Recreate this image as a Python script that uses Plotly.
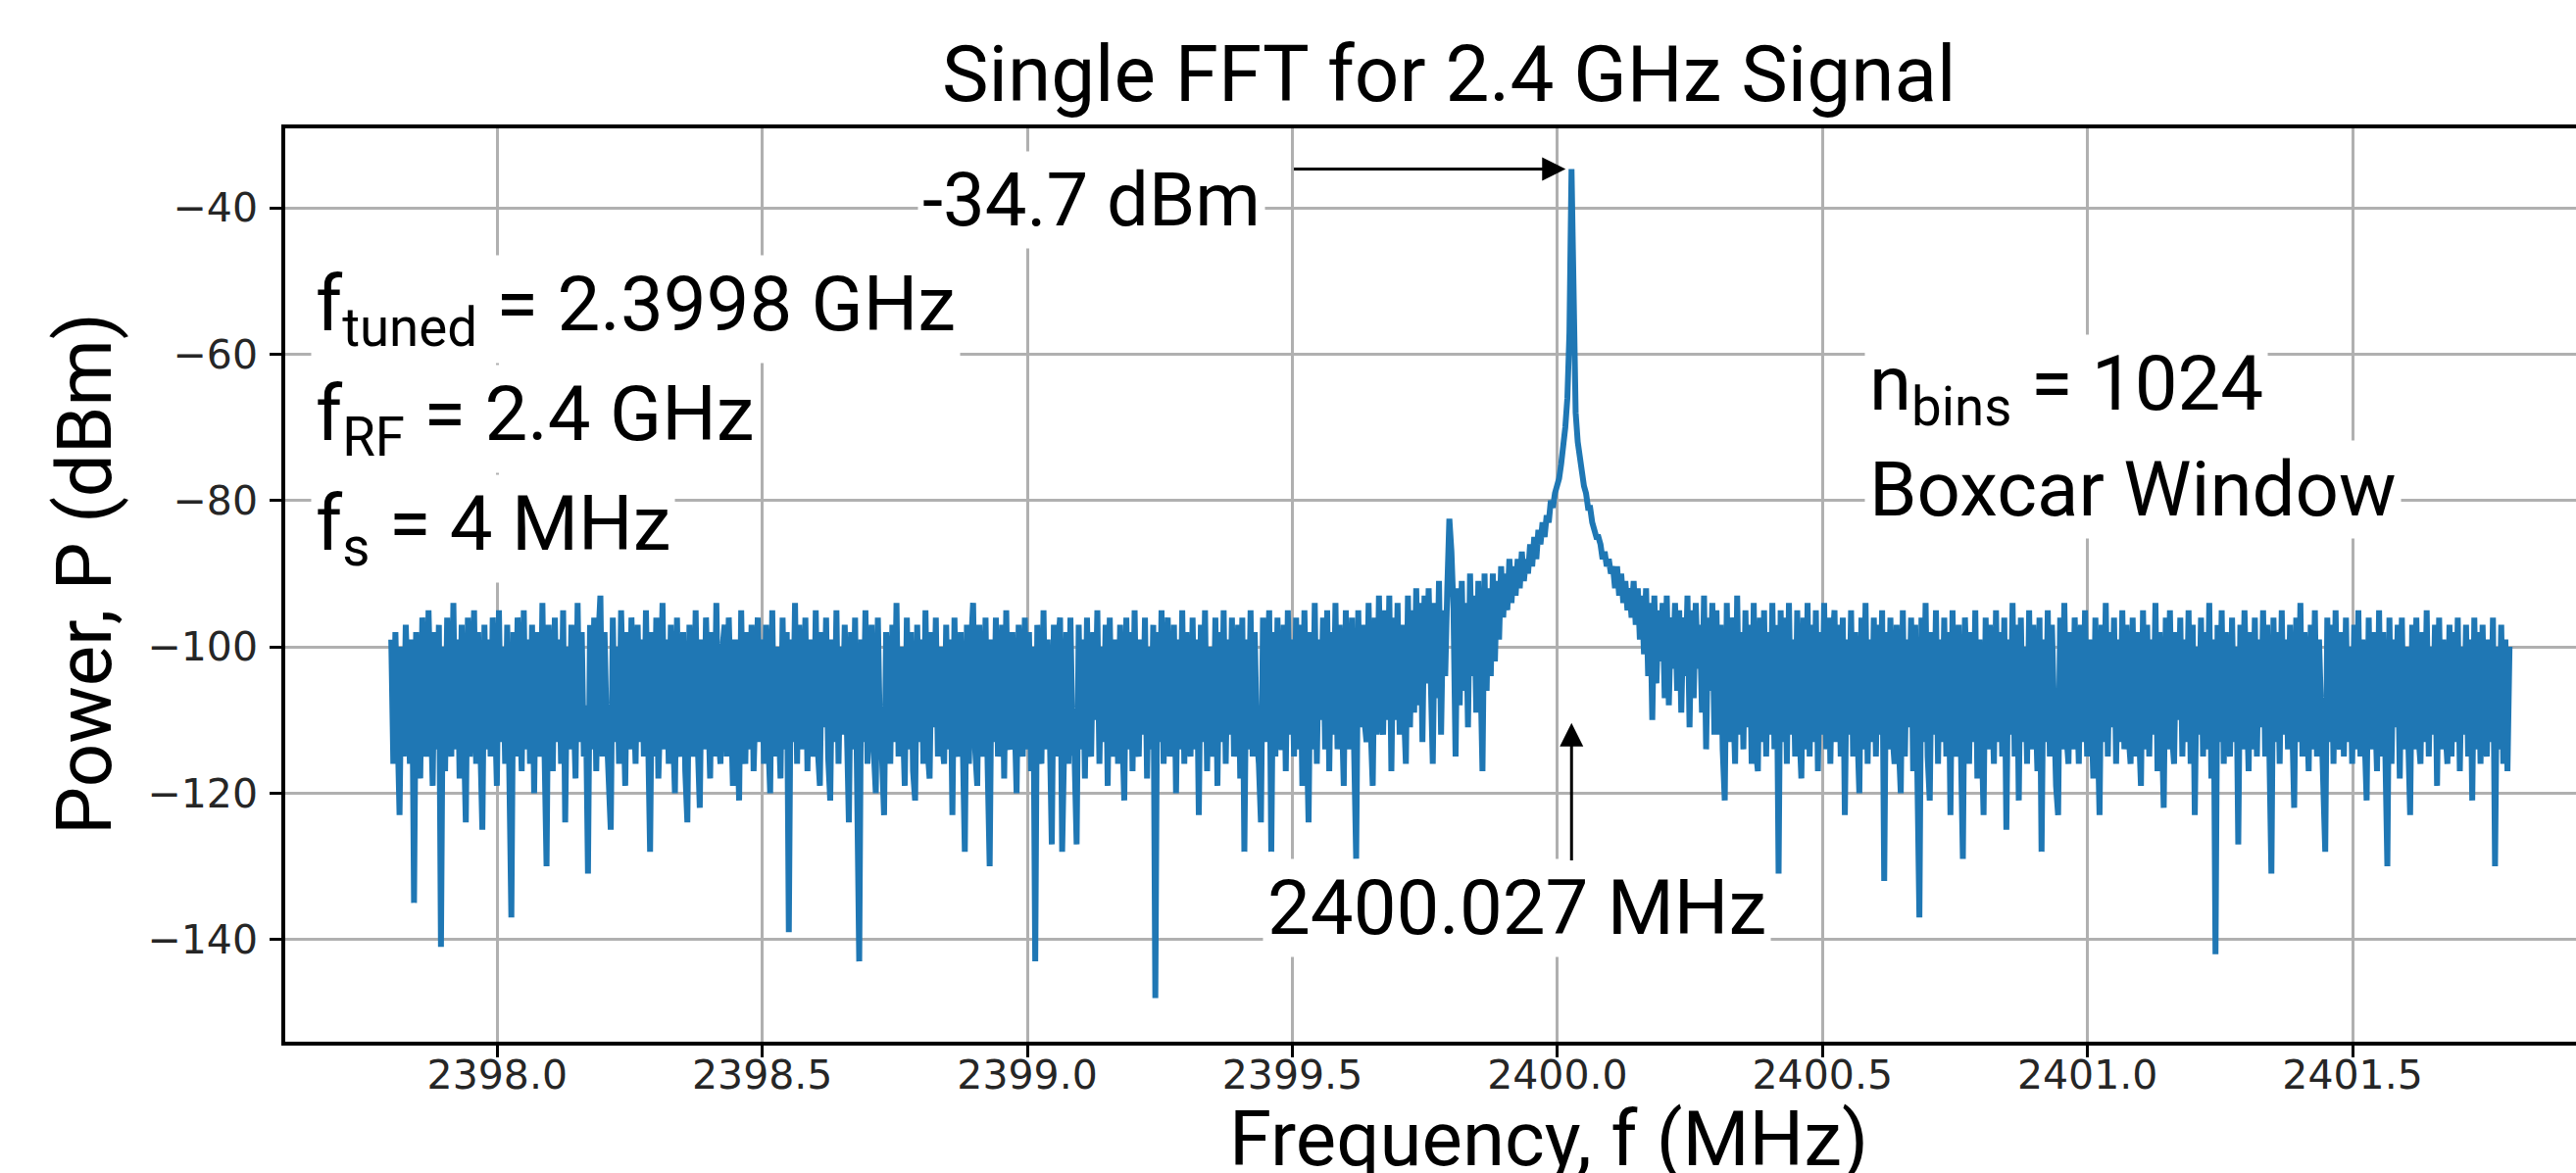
import plotly.graph_objects as go

# ---------------- data ----------------
f_start_mhz = 2397.8          # first FFT bin (tuned 2399.8 MHz - fs/2)
f_s_mhz = 4.0                 # sample rate
n_bins = 1024

power_dbm = [
    -99, -116, -98, -112, -123, -100, -115, -97, -110, -116, -99, -135, -98, -113, -118, -96,
    -110, -115, -95, -113, -119, -98, -114, -97, -141, -100, -117, -96, -112, -115, -94, -114,
    -99, -118, -97, -111, -124, -96, -115, -108, -95, -116, -98, -113, -125, -97, -114, -99,
    -115, -96, -110, -119, -95, -113, -100, -116, -97, -112, -137, -98, -115, -96, -110, -117,
    -95, -114, -99, -116, -97, -120, -98, -112, -115, -94, -114, -130, -97, -111, -117, -96,
    -113, -99, -116, -95, -124, -100, -114, -97, -112, -118, -94, -113, -98, -115, -108, -131,
    -97, -114, -96, -117, -99, -93, -115, -98, -111, -120, -125, -96, -113, -100, -116, -95,
    -112, -119, -98, -114, -96, -110, -116, -97, -113, -99, -115, -95, -112, -128, -98, -115,
    -96, -118, -108, -94, -114, -99, -116, -97, -111, -120, -96, -113, -115, -98, -117, -124,
    -97, -112, -115, -95, -113, -122, -99, -114, -96, -110, -118, -98, -115, -94, -112, -116,
    -100, -97, -115, -96, -113, -119, -99, -114, -121, -95, -112, -116, -98, -114, -97, -117,
    -109, -96, -113, -99, -116, -97, -112, -120, -95, -115, -100, -111, -118, -96, -114, -98,
    -139, -99, -113, -94, -116, -97, -114, -110, -96, -117, -99, -112, -115, -95, -114, -119,
    -98, -111, -96, -115, -121, -99, -113, -95, -116, -100, -112, -97, -115, -124, -98, -114,
    -96, -118, -143, -99, -113, -95, -116, -108, -97, -114, -120, -96, -112, -115, -123, -98,
    -110, -116, -97, -113, -94, -115, -100, -112, -119, -96, -114, -98, -117, -121, -97, -113,
    -99, -116, -95, -114, -118, -98, -111, -96, -115, -100, -113, -116, -97, -114, -99, -123,
    -96, -113, -115, -98, -111, -128, -97, -116, -100, -94, -114, -119, -97, -112, -115, -96,
    -116, -130, -99, -113, -96, -115, -108, -97, -118, -95, -113, -114, -98, -112, -120, -97,
    -110, -115, -96, -114, -98, -117, -100, -143, -97, -112, -116, -95, -114, -99, -111, -127,
    -97, -115, -100, -96, -128, -113, -98, -116, -96, -112, -115, -127, -97, -114, -99, -118,
    -96, -113, -115, -98, -110, -95, -116, -100, -113, -97, -119, -96, -112, -115, -99, -116,
    -97, -111, -121, -96, -114, -98, -117, -95, -113, -115, -99, -112, -96, -118, -100, -114,
    -97, -148, -98, -113, -95, -116, -108, -96, -115, -112, -97, -120, -99, -114, -95, -116,
    -98, -112, -115, -96, -114, -99, -123, -97, -113, -95, -117, -100, -111, -115, -96, -119,
    -98, -113, -95, -116, -99, -112, -96, -115, -108, -97, -118, -96, -128, -99, -114, -95,
    -115, -98, -112, -116, -124, -96, -113, -100, -95, -128, -98, -115, -96, -113, -114, -97,
    -117, -95, -112, -99, -115, -96, -114, -97, -119, -95, -112, -124, -98, -114, -94, -116,
    -99, -110, -96, -114, -95, -117, -98, -112, -94, -114, -97, -113, -119, -95, -111, -114,
    -96, -114, -129, -95, -111, -97, -110, -113, -94, -111, -119, -96, -112, -93, -109, -112,
    -95, -110, -93, -117, -96, -110, -94, -112, -97, -108, -116, -93, -111, -95, -109, -92,
    -108, -94, -113, -93, -105, -92, -110, -116, -94, -107, -91, -112, -95, -104, -92, -82.5,
    -87, -95, -115, -92, -108, -91, -106, -94, -111, -90, -104, -93, -109, -91, -103, -117,
    -90, -106, -92, -104, -90, -102, -91, -99, -89, -96, -90, -95, -88, -94, -89, -93,
    -88, -92, -87, -91, -88, -90, -86, -89, -85, -88, -84, -86, -83, -85, -82, -83,
    -80, -81, -79, -78, -77, -75, -73, -70, -66, -57, -34.7, -60, -68, -72, -75, -76,
    -78, -79, -81, -81, -83, -84, -85, -85, -86, -88, -87, -89, -88, -90, -89, -92,
    -89, -93, -90, -94, -91, -95, -92, -96, -91, -97, -92, -99, -93, -101, -92, -104,
    -94, -110, -93, -105, -95, -102, -94, -107, -93, -108, -96, -103, -94, -106, -95, -109,
    -96, -104, -93, -111, -95, -107, -94, -103, -97, -109, -93, -114, -96, -106, -94, -112,
    -95, -112, -97, -114, -121, -94, -113, -96, -110, -116, -93, -112, -98, -114, -95, -111,
    -97, -116, -94, -114, -117, -96, -113, -95, -115, -98, -112, -94, -114, -97, -131, -95,
    -113, -96, -116, -94, -112, -99, -115, -95, -111, -118, -96, -114, -94, -115, -97, -113,
    -95, -117, -98, -112, -94, -114, -96, -116, -100, -95, -113, -97, -115, -96, -123, -99,
    -112, -95, -115, -98, -111, -120, -96, -114, -94, -116, -99, -113, -96, -115, -97, -112,
    -95, -132, -98, -114, -96, -112, -116, -97, -113, -120, -95, -115, -99, -111, -96, -117,
    -97, -114, -137, -96, -113, -94, -115, -121, -98, -112, -95, -116, -99, -113, -96, -115,
    -98, -123, -95, -112, -115, -97, -114, -129, -96, -111, -116, -98, -113, -95, -118, -99,
    -112, -123, -96, -114, -97, -110, -116, -95, -113, -98, -115, -96, -125, -99, -112, -94,
    -115, -97, -121, -96, -113, -100, -116, -95, -114, -97, -112, -117, -96, -128, -99, -113,
    -95, -115, -97, -111, -119, -123, -96, -114, -94, -112, -116, -98, -114, -96, -110, -116,
    -97, -113, -95, -115, -99, -112, -118, -96, -114, -123, -97, -113, -94, -115, -98, -111,
    -96, -116, -99, -113, -95, -114, -97, -112, -116, -96, -115, -98, -111, -119, -95, -114,
    -97, -115, -99, -112, -94, -117, -98, -113, -122, -96, -114, -95, -112, -116, -98, -110,
    -96, -115, -99, -113, -95, -116, -97, -123, -100, -112, -96, -115, -98, -114, -94, -118,
    -99, -142, -97, -113, -95, -116, -98, -112, -115, -96, -113, -100, -127, -97, -114, -95,
    -112, -117, -98, -114, -96, -115, -99, -111, -95, -115, -97, -119, -131, -96, -113, -98,
    -116, -95, -112, -99, -114, -97, -116, -122, -96, -113, -94, -115, -98, -112, -117, -97,
    -114, -95, -115, -99, -111, -118, -128, -96, -113, -97, -116, -95, -112, -114, -98, -115,
    -96, -113, -100, -116, -97, -114, -95, -115, -99, -112, -121, -96, -114, -98, -112, -117,
    -95, -115, -98, -113, -130, -96, -116, -99, -111, -97, -118, -96, -114, -100, -113, -123,
    -97, -114, -96, -112, -116, -98, -113, -95, -115, -100, -112, -97, -119, -96, -114, -99,
    -111, -116, -97, -115, -98, -113, -96, -117, -100, -112, -97, -115, -99, -121, -96, -114,
    -98, -116, -97, -112, -115, -99, -113, -96, -130, -100, -114, -97, -116, -99, -117, -100,
]

x_tick_vals = [2398.0, 2398.5, 2399.0, 2399.5, 2400.0, 2400.5, 2401.0, 2401.5]
y_tick_vals = [-140, -120, -100, -80, -60, -40]

title_text = "Single FFT for 2.4 GHz Signal"
x_label = "Frequency, f (MHz)"
y_label = "Power, P (dBm)"
left_notes = ["f<sub>tuned</sub> = 2.3998 GHz", "f<sub>RF</sub> = 2.4 GHz", "f<sub>s</sub> = 4 MHz"]
right_notes = ["n<sub>bins</sub> = 1024", "Boxcar Window"]

# ---------------- layout geometry ----------------
W, H = 2628, 1197
PL, PR, PT, PB = 291, 2628, 131, 1063      # plot area in pixels
x_range = [2397.6, 2401.9215]
y_range = [-153.97, -29.14]

def px(xp):
    return (xp - PL) / (PR - PL)

def py(yp):
    return (PB - yp) / (PB - PT)

dx = f_s_mhz / n_bins
peak_idx = max(range(len(power_dbm)), key=lambda i: power_dbm[i])
peak_val = power_dbm[peak_idx]
peak_f = f_start_mhz + peak_idx * dx

BLUE = "#1f77b4"
ANN_FONT = "Roboto"

fig = go.Figure()
fig.add_trace(go.Scatter(
    x0=f_start_mhz, dx=dx, y=power_dbm, mode="lines",
    line=dict(color=BLUE, width=6), hoverinfo="skip", showlegend=False,
))

tick_font = dict(family="DejaVu Sans", size=41, color="#262626")
fig.update_xaxes(
    range=x_range, tickvals=x_tick_vals, tickformat=".1f",
    showgrid=True, gridcolor="#b0b0b0", gridwidth=2.5,
    showline=True, linecolor="black", linewidth=3.5, mirror=True,
    ticks="outside", ticklen=12, tickwidth=3, tickcolor="black",
    tickfont=tick_font, zeroline=False, ticklabelstandoff=-17,
)
fig.update_yaxes(
    range=y_range, tickvals=y_tick_vals, tickformat="d",
    showgrid=True, gridcolor="#b0b0b0", gridwidth=2.5,
    showline=True, linecolor="black", linewidth=3.5, mirror=False,
    ticks="outside", ticklen=12, tickwidth=3, tickcolor="black",
    tickfont=tick_font, zeroline=False, ticklabelstandoff=4,
)

anns = []
def text_ann(text, xp, yp, size, xanchor="left", angle=0, bg="white"):
    anns.append(dict(
        text=text, x=px(xp), y=py(yp), xref="paper", yref="paper",
        xanchor=xanchor, yanchor="middle", showarrow=False, textangle=angle,
        font=dict(family=ANN_FONT, size=size, color="black"),
        bgcolor=bg, borderpad=4,
    ))

text_ann(title_text, 1478, 76, 80, xanchor="center", bg="rgba(0,0,0,0)")
text_ann(y_label, 86, 586, 78, xanchor="center", angle=-90, bg="rgba(0,0,0,0)")
text_ann(x_label, 1580, 1162, 78, xanchor="center", bg="rgba(0,0,0,0)")

for i, t in enumerate(left_notes):
    text_ann(t, 317, 315 + i * 112, 78)
text_ann(right_notes[0], 1902, 396, 78)
text_ann(right_notes[1], 1902, 500, 78)

text_ann(f"{peak_val:.1f} dBm", 936, 204, 76)
text_ann(f"{peak_f:.3f} MHz", 1547, 927, 78, xanchor="center")

# arrows (from data)
anns.append(dict(
    x=peak_f, y=peak_val, xref="x", yref="y",
    ax=2399.5, ay=peak_val, axref="x", ayref="y",
    text="", showarrow=True, arrowhead=2, arrowsize=1.6, arrowwidth=3,
    arrowcolor="black", standoff=6,
))
anns.append(dict(
    x=peak_f, y=-110.4, xref="x", yref="y",
    ax=peak_f, ay=-129.4, axref="x", ayref="y",
    text="", showarrow=True, arrowhead=2, arrowsize=1.6, arrowwidth=3,
    arrowcolor="black", standoff=0,
))

fig.update_layout(
    width=W, height=H,
    margin=dict(l=PL, r=W - PR, t=PT, b=H - PB, pad=0),
    paper_bgcolor="white", plot_bgcolor="white",
    annotations=anns, showlegend=False,
)

fig.write_html("out.html", config={"displayModeBar": False},
               post_script="document.body.style.margin='0';")
